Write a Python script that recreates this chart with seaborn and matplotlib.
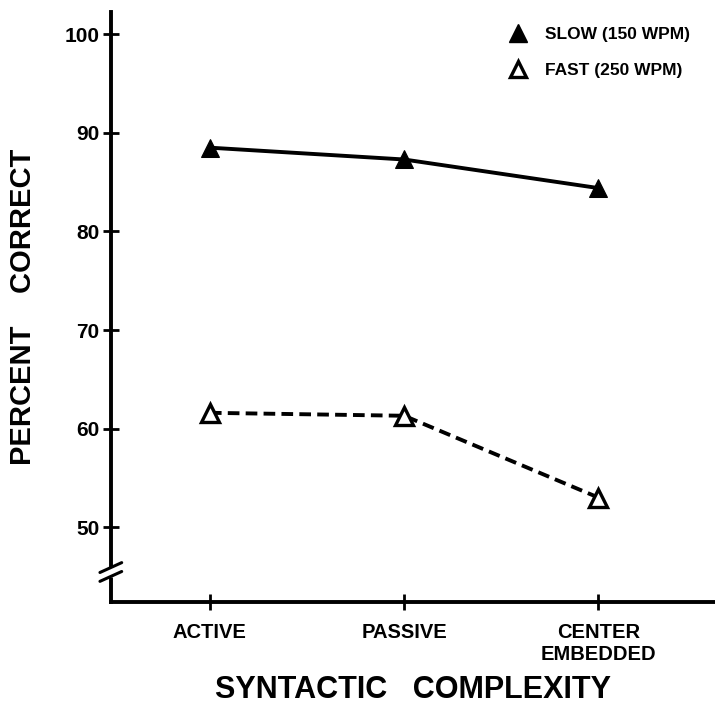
import pandas as pd
import matplotlib.pyplot as plt
import seaborn as sns
from matplotlib.lines import Line2D

# data
conditions = ["ACTIVE", "PASSIVE", "CENTER\nEMBEDDED"]
slow_pct = [88.5, 87.3, 84.4]
fast_pct = [61.6, 61.3, 53.0]
speeds = ["SLOW (150 WPM)", "FAST (250 WPM)"]
y_ticks = [50, 60, 70, 80, 90, 100]

df = pd.DataFrame({
    "cond": conditions * 2,
    "pct": slow_pct + fast_pct,
    "speed": [speeds[0]] * 3 + [speeds[1]] * 3,
})
df["pos"] = df["cond"].map({c: i for i, c in enumerate(conditions)})

sns.set_style("white")
plt.rcParams["font.family"] = ["Liberation Sans", "DejaVu Sans"]
plt.rcParams["font.weight"] = "bold"
plt.rcParams["text.color"] = "black"
plt.rcParams["axes.labelcolor"] = "black"
plt.rcParams["xtick.color"] = "black"
plt.rcParams["ytick.color"] = "black"

fig = plt.figure(figsize=(7.15, 7.28), dpi=100)
ax = fig.add_axes([0.155, 0.173, 0.845, 0.811])

sns.lineplot(data=df[df["speed"] == speeds[0]], x="pos", y="pct", ax=ax,
             color="black", lw=2.8, marker="^", markersize=13,
             markerfacecolor="black", markeredgecolor="black", legend=False)
sns.lineplot(data=df[df["speed"] == speeds[1]], x="pos", y="pct", ax=ax,
             color="black", lw=2.8, linestyle=(0, (3, 1.6)), marker="^",
             markersize=13, markerfacecolor="white", markeredgecolor="black",
             markeredgewidth=2.4, legend=False)

ax.set_xlim(-0.51, 2.6)
ax.set_ylim(42.4, 102.3)
ax.set_xticks(range(len(conditions)))
ax.set_xticklabels(conditions, fontsize=14.5, fontweight="bold")
ax.set_yticks(y_ticks)
ax.set_yticklabels([str(t) for t in y_ticks], fontsize=15, fontweight="bold")
ax.tick_params(axis="both", direction="inout", length=12, width=2,
               color="black", left=True, bottom=True)
ax.tick_params(axis="x", pad=9)
ax.tick_params(axis="y", pad=2)

for s in ["top", "right"]:
    ax.spines[s].set_visible(False)
for s in ["left", "bottom"]:
    ax.spines[s].set_linewidth(2.8)
    ax.spines[s].set_color("black")

ax.set_xlabel("SYNTACTIC   COMPLEXITY", fontsize=22, fontweight="bold", labelpad=8)
ax.set_ylabel("PERCENT    CORRECT", fontsize=21, fontweight="bold", labelpad=20)

# axis break on the y axis
trans = ax.get_yaxis_transform()
ax.plot([0, 0], [44.9, 46.0], transform=trans, color="white", lw=5,
        clip_on=False, zorder=5, solid_capstyle="butt")
for yb in [45.0, 45.9]:
    ax.plot([-0.018, 0.018], [yb - 0.5, yb + 0.5], transform=trans,
            color="black", lw=2.2, clip_on=False, zorder=6)

# legend
handles = [
    Line2D([], [], ls="none", marker="^", markersize=13, color="black"),
    Line2D([], [], ls="none", marker="^", markersize=12, markerfacecolor="white",
           markeredgecolor="black", markeredgewidth=2.4),
]
ax.legend(handles, speeds, loc="upper right", bbox_to_anchor=(0.985, 1.0),
          frameon=False, handlelength=1.2, handletextpad=1.0, labelspacing=1.2,
          prop={"weight": "bold", "size": 12.5})

fig.savefig("out.png", dpi=100)
